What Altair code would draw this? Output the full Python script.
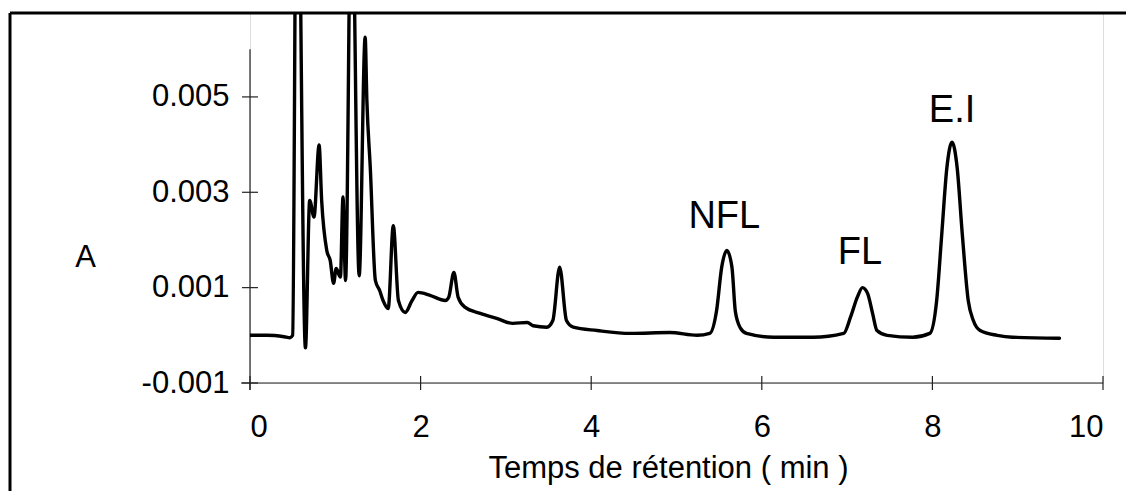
import altair as alt
import pandas as pd

FONT = "Liberation Sans, Arial, Helvetica, sans-serif"

# Chromatogram trace (time in min, absorbance)
time_min = [0.00, 0.20, 0.40, 0.47, 0.50, 0.55, 0.65, 0.70, 0.75, 0.81, 0.84, 0.90,
            0.94, 0.98, 1.01, 1.06, 1.09, 1.12, 1.19, 1.28, 1.35, 1.37, 1.41, 1.47,
            1.52, 1.56, 1.62, 1.68, 1.74, 1.82, 1.90, 1.97, 2.11, 2.29, 2.33, 2.39,
            2.44, 2.52, 2.70, 2.90, 3.08, 3.25, 3.32, 3.48, 3.55, 3.63, 3.71, 3.79,
            4.07, 4.46, 4.92, 5.24, 5.39, 5.47, 5.53, 5.59, 5.65, 5.69, 5.75, 5.82,
            6.14, 6.60, 6.96, 7.04, 7.12, 7.18, 7.24, 7.30, 7.35, 7.47, 7.77, 7.97,
            8.05, 8.11, 8.17, 8.23, 8.29, 8.35, 8.42, 8.48, 8.56, 8.76, 8.94, 9.49]
absorb = [0.00000, 0.00000, -0.00003, -0.00005, 0.00000, 0.01200, -0.00026, 0.00283,
          0.00248, 0.00399, 0.00283, 0.00178, 0.00157, 0.00109, 0.00140, 0.00122,
          0.00290, 0.00115, 0.01000, 0.00125, 0.00625, 0.00493, 0.00352, 0.00115,
          0.00094, 0.00073, 0.00056, 0.00230, 0.00073, 0.00048, 0.00073, 0.00090,
          0.00084, 0.00073, 0.00080, 0.00132, 0.00080, 0.00059, 0.00046, 0.00035,
          0.00025, 0.00027, 0.00020, 0.00017, 0.00031, 0.00143, 0.00031, 0.00017,
          0.00010, 0.00004, 0.00006, 0.00000, 0.00004, 0.00052, 0.00143, 0.00178,
          0.00143, 0.00050, 0.00015, 0.00004, -0.00004, -0.00004, 0.00004, 0.00038,
          0.00080, 0.00100, 0.00088, 0.00045, 0.00010, 0.00000, -0.00004, 0.00004,
          0.00073, 0.00213, 0.00352, 0.00405, 0.00352, 0.00213, 0.00073, 0.00031,
          0.00010, 0.00000, -0.00004, -0.00006]

# Peak annotations
peak_names = ["NFL", "FL", "E.I"]
peak_time = [5.56, 7.15, 8.23]
peak_label_a = [0.00225, 0.00150, 0.00447]

# Axes
x_ticks = [0, 2, 4, 6, 8, 10]
y_ticks = [-0.001, 0.001, 0.003, 0.005]
y_min, y_axis_top, y_view_top = -0.001, 0.006, 0.00676
x_min, x_max = 0, 10

W, H = 853, 370
FS = 31
PAD_B = 108

trace = pd.DataFrame({"t": time_min, "a": absorb})
ann = pd.DataFrame({"t": peak_time, "a": peak_label_a, "name": peak_names})
xt = pd.DataFrame({"t": x_ticks})
yt = pd.DataFrame({"a": y_ticks})

xscale = alt.Scale(domain=[x_min, x_max], nice=False, zero=False)
yscale = alt.Scale(domain=[y_min, y_view_top], nice=False, zero=False)

x_axis = alt.Axis(values=x_ticks, format="d", domain=False, ticks=False, grid=False,
                  labelFontSize=FS, labelFont=FONT, labelColor="black",
                  labelBaseline="alphabetic", labelPadding=53,
                  title="Temps de rétention ( min )", titleFont=FONT, titleFontSize=FS,
                  titleFontWeight="normal", titleColor="black",
                  titleBaseline="alphabetic", titleAlign="center", titleX=418, titleY=94)
y_axis = alt.Axis(values=y_ticks, domain=False, ticks=False, grid=False,
                  labelExpr="datum.value < 0 ? '-' + format(-datum.value, '.3f') : format(datum.value, '.3f')",
                  labelFontSize=FS, labelFont=FONT, labelColor="black", labelPadding=21,
                  title="A", titleFont=FONT, titleFontSize=FS, titleFontWeight="normal",
                  titleColor="black", titleAngle=0, titleAlign="center",
                  titleBaseline="middle", titleX=-165, titleY=244)

line = alt.Chart(trace).mark_line(color="black", strokeWidth=3.4, clip=True,
                                  interpolate="monotone",
                                  strokeJoin="round", strokeCap="round").encode(
    x=alt.X("t:Q", scale=xscale, axis=x_axis),
    y=alt.Y("a:Q", scale=yscale, axis=y_axis),
)

axis_col = "#222222"
yaxis_line = alt.Chart(pd.DataFrame({"t": [x_min], "a": [y_axis_top]})).mark_rule(
    color=axis_col, strokeWidth=1.2).encode(
    x=alt.X("t:Q", scale=xscale), y=alt.Y("a:Q", scale=yscale), y2=alt.value(H + 7))
xaxis_line = alt.Chart(pd.DataFrame({"t": [x_max], "a": [y_min]})).mark_rule(
    color=axis_col, strokeWidth=1.2).encode(
    x=alt.X("t:Q", scale=xscale), x2=alt.value(-9), y=alt.Y("a:Q", scale=yscale))
ytick_rules = alt.Chart(yt).mark_rule(color=axis_col, strokeWidth=1.2).encode(
    y=alt.Y("a:Q", scale=yscale), x=alt.value(-8), x2=alt.value(8))
xtick_rules = alt.Chart(xt).mark_rule(color=axis_col, strokeWidth=1.2).encode(
    x=alt.X("t:Q", scale=xscale), y=alt.value(H - 7), y2=alt.value(H + 7))

labels = alt.Chart(ann).mark_text(font=FONT, fontSize=38, color="black",
                                  align="center", baseline="alphabetic").encode(
    x=alt.X("t:Q", scale=xscale), y=alt.Y("a:Q", scale=yscale), text="name:N")

# outer frame
frame_top = alt.Chart(pd.DataFrame({"t": [0]})).mark_rule(color="black", strokeWidth=3).encode(
    x=alt.value(-240), x2=alt.value(W + 23), y=alt.value(0))
frame_left = alt.Chart(pd.DataFrame({"t": [0]})).mark_rule(color="black", strokeWidth=3).encode(
    x=alt.value(-240), y=alt.value(0), y2=alt.value(H + PAD_B))

chart = alt.layer(
    yaxis_line, xaxis_line, ytick_rules, xtick_rules, line, labels, frame_top, frame_left
).properties(
    width=W, height=H,
    autosize=alt.AutoSizeParams(type="none"),
    padding={"left": 242, "top": 5, "right": 23, "bottom": PAD_B},
).configure_view(stroke=None).configure(background="white")

chart.save("out.html", embed_options={"renderer": "svg", "actions": False})
